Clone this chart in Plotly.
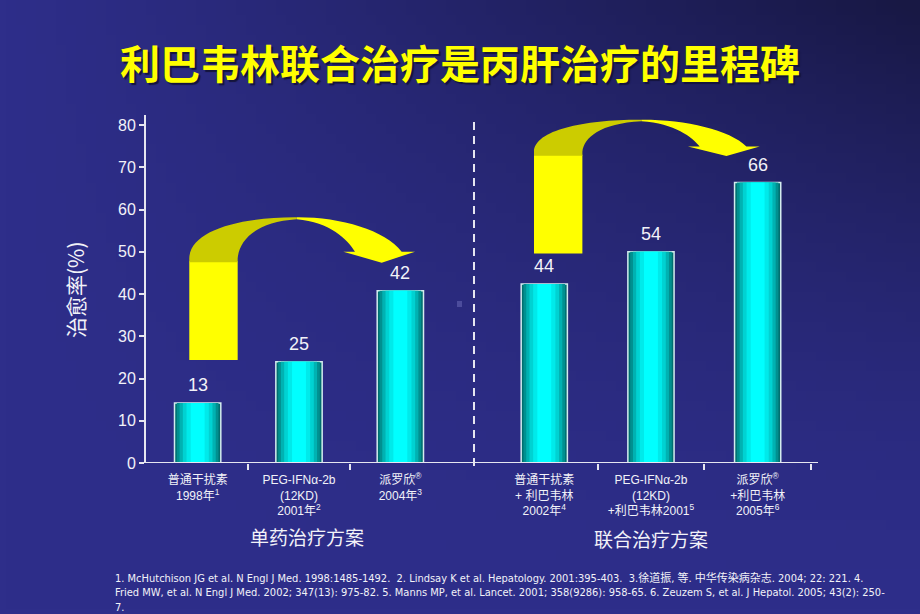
import base64
import struct
import zlib

import plotly.graph_objects as go

# 数据
left_cats = ["普通干扰素<br>1998年<sup>1</sup>",
             "PEG-IFNα-2b<br>(12KD)<br>2001年<sup>2</sup>",
             "派罗欣<sup>®</sup><br>2004年<sup>3</sup>"]
right_cats = ["普通干扰素<br>+ 利巴韦林<br>2002年<sup>4</sup>",
              "PEG-IFNα-2b<br>(12KD)<br>+利巴韦林2001<sup>5</sup>",
              "派罗欣<sup>®</sup><br>+利巴韦林<br>2005年<sup>6</sup>"]
# bar heights as drawn in the slide, and the value labels printed above them
left_vals = [14.2, 24.0, 40.8]
right_vals = [42.4, 50.0, 66.4]
left_labels = ["13", "25", "42"]
right_labels = ["44", "54", "66"]
y_ticks = [0, 10, 20, 30, 40, 50, 60, 70, 80]

TITLE = "利巴韦林联合治疗是丙肝治疗的里程碑"
FOOTNOTE = ("1. McHutchison JG et al. N Engl J Med. 1998:1485-1492.  2. Lindsay K et al. "
            "Hepatology. 2001:395-403.  3.徐道振, 等. 中华传染病杂志. 2004; 22: 221. 4.<br>"
            "Fried MW, et al. N Engl J Med. 2002; 347(13): 975-82. 5. Manns MP, et al. Lancet. "
            "2001; 358(9286): 958-65. 6. Zeuzem S, et al. J Hepatol. 2005; 43(2): 250-<br>7.")

W, H = 920, 614
ML, MR, MT, MB = 145, 102, 115, 151
PW, PH = W - ML - MR, H - MT - MB

FONT = "Liberation Sans, Arial, Noto Sans CJK SC, sans-serif"
CJK = "Noto Sans CJK SC, sans-serif"
WHITE = "#F2F2F8"
AXIS = "#E6E6F0"


def px(x):
    return (x - ML) / PW


def py(y):
    return (H - MB - y) / PH


def gradient_png(w=92, h=62):
    # fondo azul oscuro, más oscuro hacia la esquina superior derecha
    base, dark = (46, 46, 138), (24, 24, 68)
    raw = bytearray()
    for j in range(h):
        raw.append(0)
        for i in range(w):
            s = (i / (w - 1)) ** 1.1 * (1 - j / (h - 1)) ** 1.6
            raw += bytes(int(b + (d - b) * s) for b, d in zip(base, dark))

    def chunk(tag, data):
        return (struct.pack(">I", len(data)) + tag + data
                + struct.pack(">I", zlib.crc32(tag + data) & 0xFFFFFFFF))

    png = (b"\x89PNG\r\n\x1a\n"
           + chunk(b"IHDR", struct.pack(">IIBBBBB", w, h, 8, 2, 0, 0, 0))
           + chunk(b"IDAT", zlib.compress(bytes(raw)))
           + chunk(b"IEND", b""))
    return "data:image/png;base64," + base64.b64encode(png).decode()


def path(points):
    # one command per segment, plotly's path converter wants them explicit
    out = []
    for cmd, pts in points:
        if cmd == "C":
            out.append("C " + " ".join(f"{px(x):.4f},{py(y):.4f}" for x, y in pts))
        else:
            for x, y in pts:
                out.append(f"{cmd} {px(x):.4f},{py(y):.4f}")
    return " ".join(out) + " Z"


def arrow_shapes(L, T, vs):
    # curved 3D arrow: relative coords from rect top-left, dy<0 scaled by vs
    def p(dx, dy):
        return (L + dx, T + (dy * vs if dy < 0 else dy))

    rect = [("M", [p(0, 3)]), ("L", [p(48.4, 3), p(48.4, 101.7), p(0, 101.7)])]
    cap = [("M", [p(0, 4)]), ("L", [p(0, 0)]),
           ("C", [p(0.7, -28), p(50.7, -41.3), p(107.4, -41)]),
           ("L", [p(107.4, -39)]),
           ("C", [p(66, -36.3), p(50, -18), p(48.4, 0)]),
           ("L", [p(48.4, 4)])]
    band = [("M", [p(107.4, -41)]),
            ("C", [p(150.7, -41.3), p(195.7, -28.3), p(212.4, -6.6)]),
            ("L", [p(225.7, -6.6), p(192.4, 4.4), p(154, -6.6), p(165.7, -6.6)]),
            ("C", [p(158.7, -18.3), p(140.7, -36.3), p(107.4, -39)])]
    common = dict(type="path", xref="paper", yref="paper", line=dict(width=0), layer="above")
    return [dict(path=path(rect), fillcolor="#FFFF00", **common),
            dict(path=path(cap), fillcolor="#CCCC00", **common),
            dict(path=path(band), fillcolor="#FFFF00", **common)]


# gradient layers for the cyan cylinders
layers = [(1.00, "#007070"), (0.90, "#009090"), (0.78, "#00B2B2"),
          (0.64, "#00D2D2"), (0.48, "#00EAEA"), (0.30, "#00FFFF")]

fig = go.Figure()
for cats, vals, xa, bw in [(left_cats, left_vals, "x", 0.457),
                           (right_cats, right_vals, "x2", 0.433)]:
    for f, col in layers:
        fig.add_trace(go.Bar(
            x=cats, y=vals, width=bw * f, xaxis=xa, yaxis="y",
            marker=dict(color=col,
                        line=dict(color="#D4ECEE", width=1.5 if f == 1.0 else 0)),
            hoverinfo="skip",
        ))

annotations = []
for cats, vals, labels, xa in [(left_cats, left_vals, left_labels, "x"),
                               (right_cats, right_vals, right_labels, "x2")]:
    for c, v, t in zip(cats, vals, labels):
        annotations.append(dict(x=c, y=v, xref=xa, yref="y", text=t, showarrow=False,
                                xanchor="center", yanchor="bottom", yshift=6,
                                font=dict(size=18, color=WHITE, family=FONT)))

annotations += [
    dict(x=px(75), y=py(290), xref="paper", yref="paper", text="治愈率(%)", textangle=-90,
         xanchor="center", yanchor="middle", showarrow=False,
         font=dict(size=21, color=WHITE, family=CJK)),
    dict(x=px(307), y=py(536), xref="paper", yref="paper", text="单药治疗方案",
         xanchor="center", yanchor="middle", showarrow=False,
         font=dict(size=19, color=WHITE, family=CJK)),
    dict(x=px(651), y=py(538), xref="paper", yref="paper", text="联合治疗方案",
         xanchor="center", yanchor="middle", showarrow=False,
         font=dict(size=19, color=WHITE, family=CJK)),
    dict(x=px(113), y=py(569), xref="paper", yref="paper", text=FOOTNOTE, showarrow=False,
         xanchor="left", yanchor="top", align="left",
         font=dict(size=11, color=WHITE,
                   family="Liberation Sans Narrow, Arial Narrow, DejaVu Sans Condensed, "
                          "Liberation Sans, Noto Sans CJK SC")),
]

shapes = [
    # eje x continuo
    dict(type="line", xref="paper", yref="y", x0=0, x1=1, y0=0, y1=0,
         line=dict(color=AXIS, width=2)),
    # separador punteado
    dict(type="line", xref="paper", yref="paper", x0=px(474), x1=px(474),
         y0=py(122), y1=py(472), line=dict(color=AXIS, width=2, dash="8px,6px")),
    dict(type="rect", xref="paper", yref="paper", x0=px(457), x1=px(462),
         y0=py(307), y1=py(301), fillcolor="#4C4C9C", line=dict(width=0)),
]
shapes += arrow_shapes(189.3, 258.3, 1.0)
shapes += arrow_shapes(534.0, 151.7, 0.78)

xcommon = dict(type="category", showline=False, showgrid=False, zeroline=False,
               ticks="outside", tickson="boundaries", ticklen=6, tickwidth=1.5,
               tickcolor=AXIS, ticklabelstandoff=8,
               tickfont=dict(size=12, color=WHITE, family=FONT),
               anchor="y", fixedrange=True)

fig.update_layout(
    width=W, height=H,
    margin=dict(l=ML, r=MR, t=MT, b=MB),
    paper_bgcolor="#2E2E8A",
    plot_bgcolor="rgba(0,0,0,0)",
    barmode="overlay",
    showlegend=False,
    title=dict(text=TITLE, x=0.5, xanchor="center", y=1 - 65 / H, yanchor="middle",
               font=dict(size=40, color="#FFFF00", family=CJK, weight="bold",
                         shadow="2px 2px 1px #14143C")),
    xaxis=dict(domain=[px(148), px(450)], range=[-0.49, 2.49], **xcommon),
    xaxis2=dict(domain=[px(492), px(811)], range=[-0.49, 2.5], **xcommon),
    yaxis=dict(range=[0, 82.4], tickvals=y_ticks, showline=True, linecolor=AXIS,
               linewidth=2, ticks="outside", ticklen=5, tickwidth=1.5, tickcolor=AXIS,
               showgrid=False, zeroline=False, anchor="free", position=0,
               tickfont=dict(size=16, color=WHITE, family=FONT), fixedrange=True),
    annotations=annotations,
    shapes=shapes,
    images=[dict(source=gradient_png(), xref="paper", yref="paper",
                 x=-ML / PW, y=1 + MT / PH, sizex=W / PW, sizey=H / PH,
                 xanchor="left", yanchor="top", sizing="stretch", layer="below")],
)

fig.write_html("out.html", config={"displayModeBar": False},
               post_script="document.body.style.margin='0';document.body.style.padding='0';")
